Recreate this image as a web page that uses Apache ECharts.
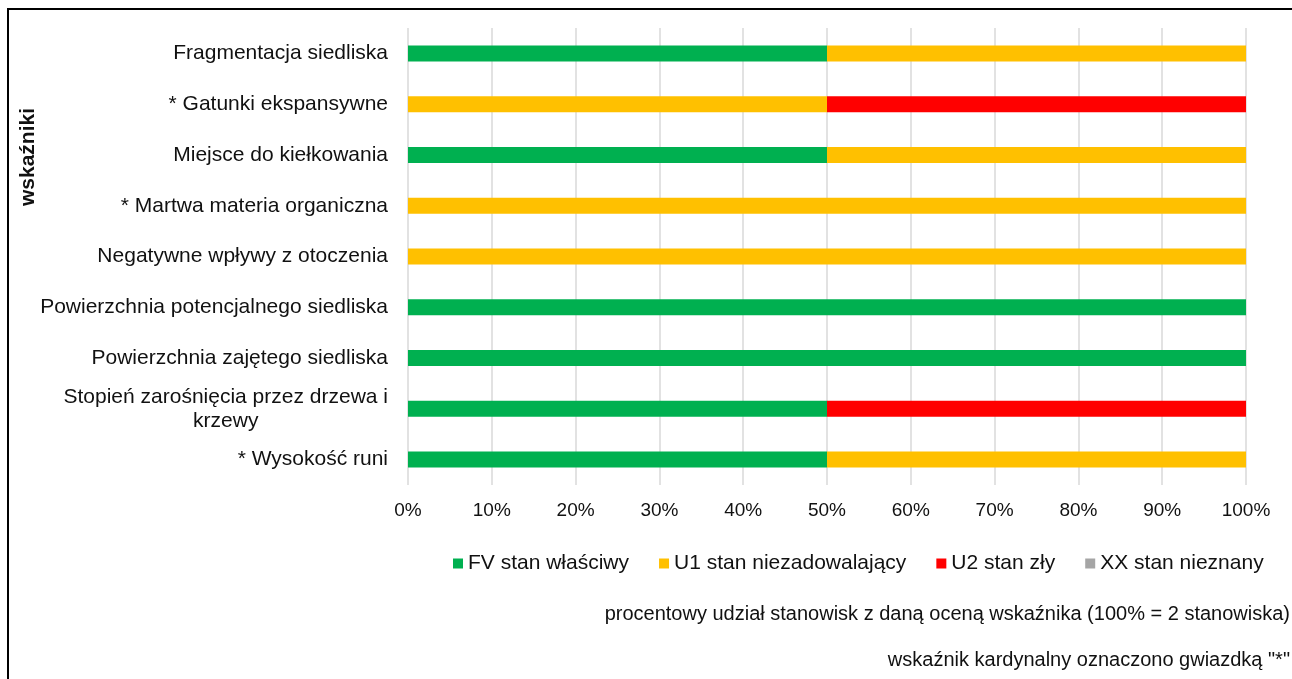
<!DOCTYPE html>
<html>
<head>
<meta charset="utf-8">
<script src="https://cdn.jsdelivr.net/npm/echarts@6/dist/echarts.min.js"></script>
<style>
html,body{margin:0;padding:0;background:#fff;}
#chart{width:1292px;height:679px;}
</style>
</head>
<body>
<div id="chart"></div>
<script>
// ---- data ----
var categories = [
  'Fragmentacja siedliska',
  '* Gatunki ekspansywne',
  'Miejsce do kiełkowania',
  '* Martwa materia organiczna',
  'Negatywne wpływy z otoczenia',
  'Powierzchnia potencjalnego siedliska',
  'Powierzchnia zajętego siedliska',
  'Stopień zarośnięcia przez drzewa i\nkrzewy',
  '* Wysokość runi'
];
var seriesNames = ['FV stan właściwy', 'U1 stan niezadowalający', 'U2 stan zły', 'XX stan nieznany'];
var fvValues = [50, 0, 50, 0, 0, 100, 100, 50, 50];
var u1Values = [50, 50, 50, 100, 100, 0, 0, 0, 50];
var u2Values = [0, 50, 0, 0, 0, 0, 0, 50, 0];
var xxValues = [0, 0, 0, 0, 0, 0, 0, 0, 0];
var xTicks = [0, 10, 20, 30, 40, 50, 60, 70, 80, 90, 100];
var axisTitle = 'wskaźniki';
var note1 = 'procentowy udział stanowisk z daną oceną wskaźnika (100% = 2 stanowiska)';
var note2 = 'wskaźnik kardynalny oznaczono gwiazdką "*"';

// ---- chart ----
var FONT = '"Liberation Sans", Arial, sans-serif';
var TXT = '#111111';
var colors = ['#00B050', '#FFC000', '#FF0000', '#A5A5A5'];
var allValues = [fvValues, u1Values, u2Values, xxValues];

var chart = echarts.init(document.getElementById('chart'), null, {renderer: 'canvas'});
var series = seriesNames.map(function (name, i) {
  return {
    name: name,
    type: 'bar',
    stack: 'total',
    barWidth: 16,
    itemStyle: {color: colors[i]},
    data: allValues[i]
  };
});

chart.setOption({
  animation: false,
  color: colors,
  textStyle: {fontFamily: FONT, color: TXT},
  grid: {left: 408, right: 46, top: 28, bottom: 194, containLabel: false},
  xAxis: {
    type: 'value',
    min: xTicks[0],
    max: xTicks[xTicks.length - 1],
    interval: xTicks[1] - xTicks[0],
    axisLine: {show: false},
    axisTick: {show: false},
    splitLine: {show: true, lineStyle: {color: '#D9D9D9', width: 1.5}},
    axisLabel: {
      formatter: '{value}%',
      fontSize: 19,
      fontFamily: FONT,
      color: TXT,
      margin: 16
    }
  },
  yAxis: {
    type: 'category',
    inverse: true,
    data: categories,
    axisLine: {show: false},
    axisTick: {show: false},
    splitLine: {show: false},
    axisLabel: {
      fontSize: 21,
      fontFamily: FONT,
      color: TXT,
      margin: 20,
      lineHeight: 24,
      formatter: function (v) {
        if (v.indexOf('\n') < 0) return v;
        return v.split('\n').map(function (s) { return '{c|' + s + '}'; }).join('\n');
      },
      rich: {
        c: {align: 'center', fontSize: 21, fontFamily: FONT, color: TXT, lineHeight: 24}
      }
    }
  },
  legend: {
    data: seriesNames,
    left: 453,
    top: 553,
    itemWidth: 10,
    itemHeight: 10,
    itemGap: 30,
    icon: 'rect',
    textStyle: {fontSize: 21, fontFamily: FONT, color: TXT},
    padding: 0,
    selectedMode: false
  },
  series: series,
  graphic: [
    {
      type: 'rect',
      silent: true,
      shape: {x: 8, y: 9, width: 1400, height: 800},
      style: {fill: 'none', stroke: '#000', lineWidth: 2}
    },
    {
      type: 'text',
      silent: true,
      x: 28,
      y: 157,
      rotation: Math.PI / 2,
      style: {
        text: axisTitle,
        font: 'bold 21px ' + FONT,
        fill: TXT,
        align: 'center',
        verticalAlign: 'middle'
      }
    },
    {
      type: 'text',
      silent: true,
      x: 1290,
      y: 614,
      style: {text: note1, font: '20px ' + FONT, fill: TXT, align: 'right', verticalAlign: 'middle'}
    },
    {
      type: 'text',
      silent: true,
      x: 1290,
      y: 660,
      style: {text: note2, font: '20px ' + FONT, fill: TXT, align: 'right', verticalAlign: 'middle'}
    }
  ]
});
</script>
</body>
</html>
